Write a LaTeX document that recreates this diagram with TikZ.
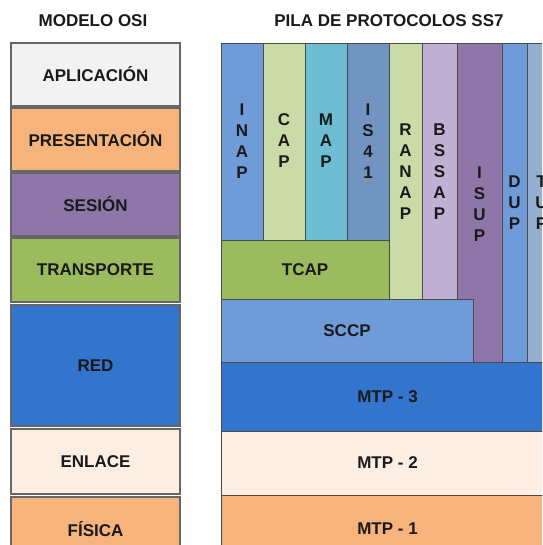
\documentclass[tikz,border=0pt]{standalone}
\usepackage{fontspec}
\setmainfont{Liberation Sans}

\definecolor{gris}{HTML}{F2F2F2}
\definecolor{naranja}{HTML}{F7B37C}
\definecolor{morado}{HTML}{8F76A8}
\definecolor{verde}{HTML}{9BBB5E}
\definecolor{azul}{HTML}{3374CC}
\definecolor{crema}{HTML}{FDEEE3}
\definecolor{celeste}{HTML}{6F9BD8}
\definecolor{verdeclaro}{HTML}{CADBA8}
\definecolor{cian}{HTML}{6DBED3}
\definecolor{acero}{HTML}{7195C0}
\definecolor{lavanda}{HTML}{C0B0D3}
\definecolor{grisazul}{HTML}{94AFCF}
\definecolor{borde}{HTML}{4A4A4A}
\definecolor{bordeosi}{HTML}{666666}
\definecolor{texto}{HTML}{1A1A1A}

\begin{document}
\begin{tikzpicture}[x=1pt, y=-1pt,
	osi/.style={draw=bordeosi, line width=1.4pt},
	capa/.style={draw=borde, line width=1pt},
	txt/.style={font=\fontsize{17}{21}\selectfont\bfseries, text=texto, align=center, inner sep=0pt}]
	\useasboundingbox (0,0) rectangle (542,545);
	\clip (0,0) rectangle (542,545);

	% titulos
	\node [txt] (tosi) at (93,21) {MODELO OSI};
	\node [txt] (tss7) at (389,21) {PILA DE PROTOCOLOS SS7};

	% modelo OSI
	\draw [osi, fill=gris] (11,43) rectangle (180,106);
		\node [txt] (apl) at (95.5,74.5) {APLICACIÓN};
	\draw [osi, fill=naranja] (11,108) rectangle (180,171);
		\node [txt] (pre) at (95.5,139.5) {PRESENTACIÓN};
	\draw [osi, fill=morado] (11,173) rectangle (180,236);
		\node [txt] (ses) at (95.5,204.5) {SESIÓN};
	\draw [osi, fill=verde] (11,238) rectangle (180,302);
		\node [txt] (tra) at (95.5,270) {TRANSPORTE};
	\draw [osi, fill=azul] (11,305) rectangle (180,426);
		\node [txt] (red) at (95.5,365.5) {RED};
	\draw [osi, fill=crema] (11,429) rectangle (180,494);
		\node [txt] (enl) at (95.5,461.5) {ENLACE};
	\draw [osi, fill=naranja] (11,497) rectangle (180,561);
		\node [txt] (fis) at (95.5,529) {FÍSICA};

	% pila SS7, columnas
	\draw [capa, fill=celeste] (221,44) rectangle (263,240);
		\node [txt] (inap) at (242,141) {I\\N\\A\\P};
	\draw [capa, fill=verdeclaro] (263,44) rectangle (305,240);
		\node [txt] (cap) at (284,141) {C\\A\\P};
	\draw [capa, fill=cian] (305,44) rectangle (347,240);
		\node [txt] (map) at (326,141) {M\\A\\P};
	\draw [capa, fill=acero] (347,44) rectangle (389,240);
		\node [txt] (is41) at (368,141) {I\\S\\4\\1};
	\draw [capa, fill=verdeclaro] (389,44) rectangle (422,299);
		\node [txt] (ranap) at (405.5,171.5) {R\\A\\N\\A\\P};
	\draw [capa, fill=lavanda] (422,44) rectangle (457,299);
		\node [txt] (bssap) at (439.5,171.5) {B\\S\\S\\A\\P};
	\draw [capa, fill=morado] (457,44) rectangle (502,362);
		\node [txt] (isup) at (479.5,204) {I\\S\\U\\P};
	\draw [capa, fill=celeste] (502,44) rectangle (527,362);
		\node [txt] (dup) at (514.5,203) {D\\U\\P};
	\draw [capa, fill=grisazul] (527,44) rectangle (556,362);
		\node [txt] (tup) at (541.5,203) {T\\U\\P};

	% pila SS7, capas
	\draw [capa, fill=verde] (221,240) rectangle (389,299);
		\node [txt] (tcap) at (305,269.5) {TCAP};
	\draw [capa, fill=celeste] (221,299) rectangle (473,362);
		\node [txt] (sccp) at (347,330.5) {SCCP};
	\draw [capa, fill=azul] (221,362) rectangle (554,431);
		\node [txt] (mtp3) at (387.5,396.5) {MTP - 3};
	\draw [capa, fill=crema] (221,431) rectangle (554,495);
		\node [txt] (mtp2) at (387.5,463) {MTP - 2};
	\draw [capa, fill=naranja] (221,495) rectangle (554,563);
		\node [txt] (mtp1) at (387.5,529) {MTP - 1};
\end{tikzpicture}
\end{document}
